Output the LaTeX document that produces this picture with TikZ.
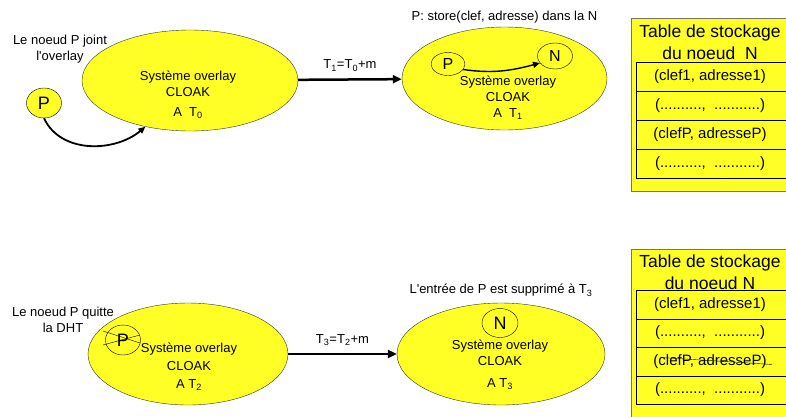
\documentclass[tikz,border=0pt]{standalone}
\usepackage{fontspec}
\setmainfont{Liberation Sans}[Ligatures=TeXOff]
\usetikzlibrary{arrows.meta,positioning,shapes.geometric}
\definecolor{cloakyellow}{RGB}{255,255,38}

\begin{document}
\begin{tikzpicture}[
  x=1pt, y=-1pt,
  sys/.style={ellipse, draw=black!80, fill=cloakyellow, inner sep=0pt},
  peer/.style={ellipse, draw=black, fill=cloakyellow, inner sep=0pt,
               minimum width=35pt, minimum height=30pt, font=\fontsize{18}{18}\selectfont},
  txt/.style={align=center, inner sep=0pt, font=\fontsize{13}{16}\selectfont},
  tabbox/.style={rectangle, draw=black!55, fill=cloakyellow, anchor=north west,
                 minimum width=170pt},
  tabtitle/.style={align=center, inner sep=0pt, font=\fontsize{17.5}{22}\selectfont},
  rowbox/.style={rectangle, draw, fill=cloakyellow, anchor=north west,
                 minimum width=170pt, minimum height=29pt},
  rowtxt/.style={inner sep=0pt, font=\fontsize{15}{18}\selectfont},
  bigarr/.style={-{Triangle[length=9pt,width=8pt]}, line width=2.5pt},
  curvarr/.style={-{Triangle[length=7pt,width=6pt]}, line width=1.8pt}
]
  \useasboundingbox (0,0) rectangle (786,416);
  \clip (0,0) rectangle (786,416);

  % upper row: P joins
  \node[sys, minimum width=216pt, minimum height=101pt] (sysA) at (190,80.5) {};
  \node[txt] (sysAtxt) at (188,95) {Système overlay\\CLOAK\\[4pt]A\ \ T\textsubscript{0}};
  \node[txt] (lblA) at (60,49) {Le noeud P joint\\l'overlay};
  \node[peer] (pA) at (44,103) {P};
  \draw[curvarr] (pA.south) to[out=-65, in=220] (sysA.226);

  \node[sys, minimum width=205pt, minimum height=103pt] (sysB) at (504.5,78.5) {};
  \node[txt] (sysBtxt) at (508,98) {Système overlay\\CLOAK\\A\ \ T\textsubscript{1}};
  \node[txt, above=3pt of sysB] (lblB) {P: store(clef, adresse) dans la N};
  \node[peer, minimum width=34pt, minimum height=23pt, font=\fontsize{16}{16}\selectfont] (pB) at (448,64) {P};
  \node[peer, minimum width=35pt, minimum height=26pt, font=\fontsize{16}{16}\selectfont] (nB) at (555,56) {N};
  \draw[curvarr, line width=1.4pt] (pB.-20) to[out=-8, in=195] (nB.205);

  \draw[bigarr] (sysA) -- node[txt, above=7pt] (lblAB) {T\textsubscript{1}=T\textsubscript{0}+m} (sysB);

  % storage table of N, upper
  \node[tabbox, minimum height=173pt] (tabA) at (631,18) {};
  \node[tabtitle] (tabAtitle) at (710,42) {Table de stockage\\du noeud\ \ N};
  \foreach \r/\t in {1/{(clef1, adresse1)}, 2/{(..........,\ \ ...........)},
                     3/{(clefP, adresseP)}, 4/{(..........,\ \ ...........)}} {
    \node[rowbox] (rowA\r) at (636,{62+(\r-1)*29}) {};
    \node[rowtxt] (txtA\r) at ([xshift=74pt]rowA\r.west) {\t};
  }

  % lower row: P leaves
  \node[sys, minimum width=200pt, minimum height=102pt] (sysC) at (188,354) {};
  \node[txt, font=\fontsize{13}{18}\selectfont] (sysCtxt) at (189,367) {Système overlay\\CLOAK\\A T\textsubscript{2}};
  \node[txt] (lblC) at (63,320) {Le noeud P quitte\\la DHT};
  \node[peer] (pC) at (123,340) {P};
  \draw (pC.center) ++(-20,-9) -- ++(37,12);
  \draw (pC.center) ++(-20,5) -- ++(37,-10);

  \node[sys, minimum width=208pt, minimum height=102pt] (sysD) at (501,354) {};
  \node[txt] (sysDtxt) at (500,365) {Système overlay\\CLOAK\\[6pt]A T\textsubscript{3}};
  \node[txt, above=6pt of sysD] (lblD) {L'entrée de P est supprimé à T\textsubscript{3}};
  \node[peer, minimum width=36pt, minimum height=29pt] (nD) at (500,323) {N};

  \draw[bigarr] (sysC) -- node[txt, above=7pt] (lblCD) {T\textsubscript{3}=T\textsubscript{2}+m} (sysD);

  % storage table of N, lower
  \node[tabbox, minimum height=180pt] (tabB) at (631,249) {};
  \node[tabtitle] (tabBtitle) at (710,272) {Table de stockage\\du noeud N};
  \foreach \r/\t in {1/{(clef1, adresse1)}, 2/{(..........,\ \ ...........)},
                     3/{(clefP, adresseP)}, 4/{(..........,\ \ ...........)}} {
    \node[rowbox, minimum height=28.5pt] (rowB\r) at (636,{290+(\r-1)*28.5}) {};
    \node[rowtxt] (txtB\r) at ([xshift=74pt]rowB\r.west) {\t};
  }
  \draw ([shift={(7,-4)}]txtB3.west) -- ([shift={(5,3)}]txtB3.east);
\end{tikzpicture}
\end{document}
